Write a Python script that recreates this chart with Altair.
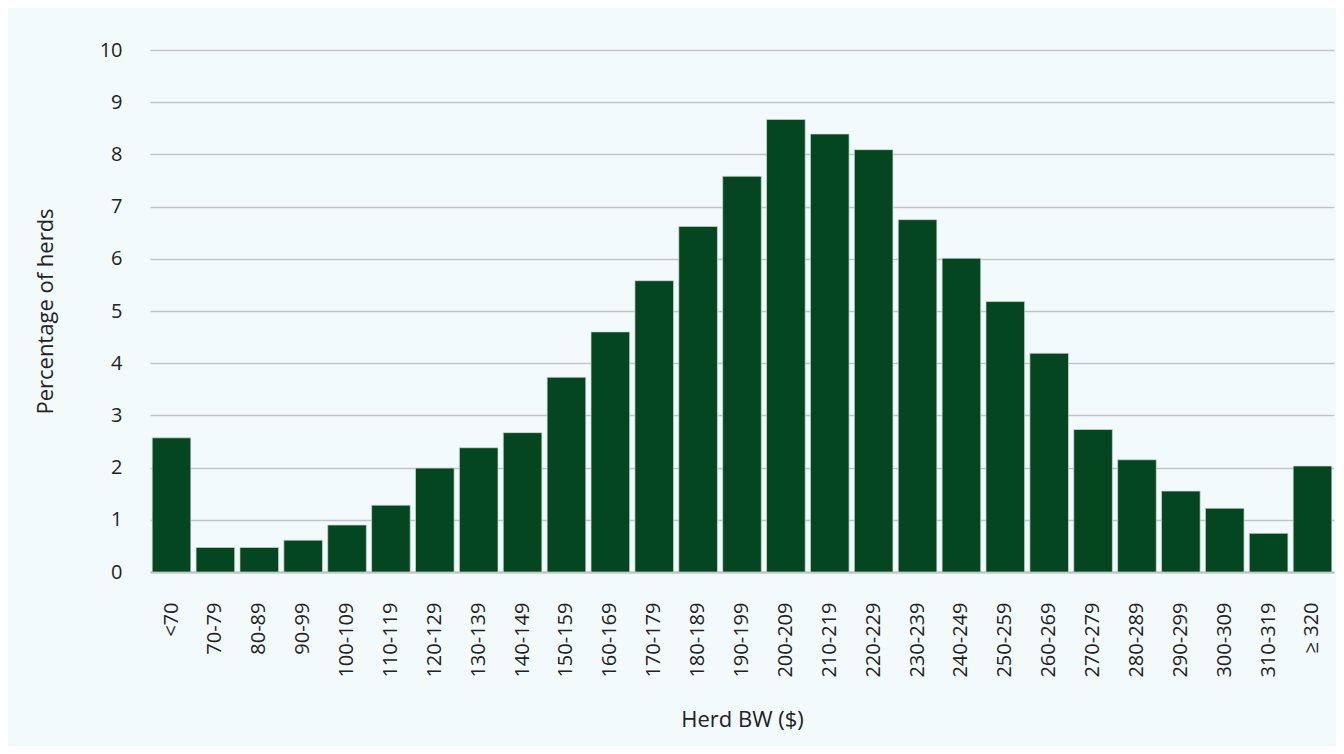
import altair as alt
import pandas as pd

categories = ["<70", "70-79", "80-89", "90-99", "100-109", "110-119", "120-129",
              "130-139", "140-149", "150-159", "160-169", "170-179", "180-189",
              "190-199", "200-209", "210-219", "220-229", "230-239", "240-249",
              "250-259", "260-269", "270-279", "280-289", "290-299", "300-309",
              "310-319", "≥ 320"]
values = [2.57, 0.47, 0.47, 0.61, 0.9, 1.28, 1.99, 2.38, 2.67, 3.73, 4.6, 5.58,
          6.62, 7.58, 8.67, 8.39, 8.09, 6.75, 6.01, 5.18, 4.19, 2.73, 2.15, 1.55,
          1.22, 0.74, 2.03]

df = pd.DataFrame({"band": categories, "pct": values})

FONT = "Open Sans"
TXT = "#222222"

chart = alt.Chart(df).mark_bar(
    color="#03461F", stroke="#cddbd2", strokeWidth=0.7
).encode(
    x=alt.X("band:N", sort=categories,
            scale=alt.Scale(paddingInner=0.12, paddingOuter=0.05),
            axis=alt.Axis(title="Herd BW ($)", labelAngle=-90, labelPadding=30,
                          ticks=False, tickSize=0, domainColor="#BFBFBF",
                          domainWidth=2, labelFontSize=20, titleFontSize=22,
                          titlePadding=32, labelFont=FONT, titleFont=FONT,
                          labelColor=TXT, titleColor=TXT, titleFontWeight="normal")),
    y=alt.Y("pct:Q", scale=alt.Scale(domain=[0, 10], nice=False),
            axis=alt.Axis(title="Percentage of herds", values=list(range(0, 11)),
                          ticks=False, tickSize=0, domain=False, grid=True,
                          gridColor="#C4C4C4", gridWidth=1.3, labelPadding=28,
                          labelFontSize=20, titleFontSize=22, titlePadding=42,
                          labelFont=FONT, titleFont=FONT, labelColor=TXT,
                          titleColor=TXT, titleFontWeight="normal")),
).properties(
    width=1184, height=522,
    autosize=alt.AutoSizeParams(type="none"),
    padding={"left": 142, "top": 42, "right": 2, "bottom": 174},
    background="#F3FAFC",
).configure_view(stroke=None)

chart.save("out.html", embed_options={"renderer": "svg", "actions": False})
